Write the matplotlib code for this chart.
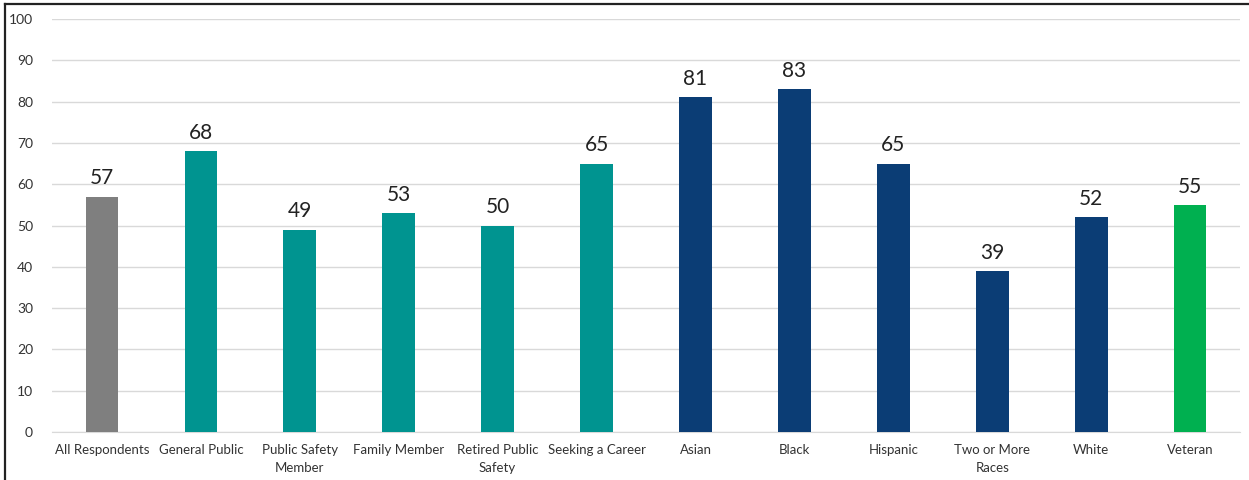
import matplotlib.pyplot as plt
from matplotlib.lines import Line2D

categories = ["All Respondents", "General Public", "Public Safety\nMember", "Family Member",
              "Retired Public\nSafety", "Seeking a Career", "Asian", "Black", "Hispanic",
              "Two or More\nRaces", "White", "Veteran"]
values = [57, 68, 49, 53, 50, 65, 81, 83, 65, 39, 52, 55]
groups = ["all", "status", "status", "status", "status", "status",
          "race", "race", "race", "race", "race", "veteran"]
group_colors = {"all": "#7f7f7f", "status": "#009490", "race": "#0b3d75", "veteran": "#00b050"}

plt.rcParams['font.family'] = ['Lato', 'DejaVu Sans']

fig = plt.figure(figsize=(12.49, 4.8), dpi=100)
ax = fig.add_axes([0.042, 0.1, 0.9505, 0.8604])

x = list(range(len(categories)))
bars = ax.bar(x, values, width=0.33, color=[group_colors[g] for g in groups], zorder=3)
for b, v in zip(bars, values):
    ax.text(b.get_x() + b.get_width() / 2, v + 2.0, str(v), ha='center', va='bottom',
            fontsize=15, color='#222222')

ax.set_xlim(-0.5, len(categories) - 0.5)
ax.set_ylim(0, 100)
ax.set_yticks(range(0, 101, 10))
ax.set_xticks(x)
ax.set_xticklabels(categories, fontsize=9.5, color='#333333', linespacing=1.5)
ax.tick_params(axis='y', labelsize=10, colors='#333333', length=0, pad=14)
ax.tick_params(axis='x', length=0, pad=9)
ax.grid(axis='y', color='#d9d9d9', linewidth=1, zorder=0)
for s in ['top', 'right', 'left']:
    ax.spines[s].set_visible(False)
ax.spines['bottom'].set_color('#d9d9d9')

# frame on the left and top edges
fig.add_artist(Line2D([5 / 1249, 5 / 1249], [0, 1 - 4 / 480], color='#222222', linewidth=1.6))
fig.add_artist(Line2D([5 / 1249, 1], [1 - 4 / 480, 1 - 4 / 480], color='#222222', linewidth=1.6))

fig.savefig('out.png', dpi=100)
